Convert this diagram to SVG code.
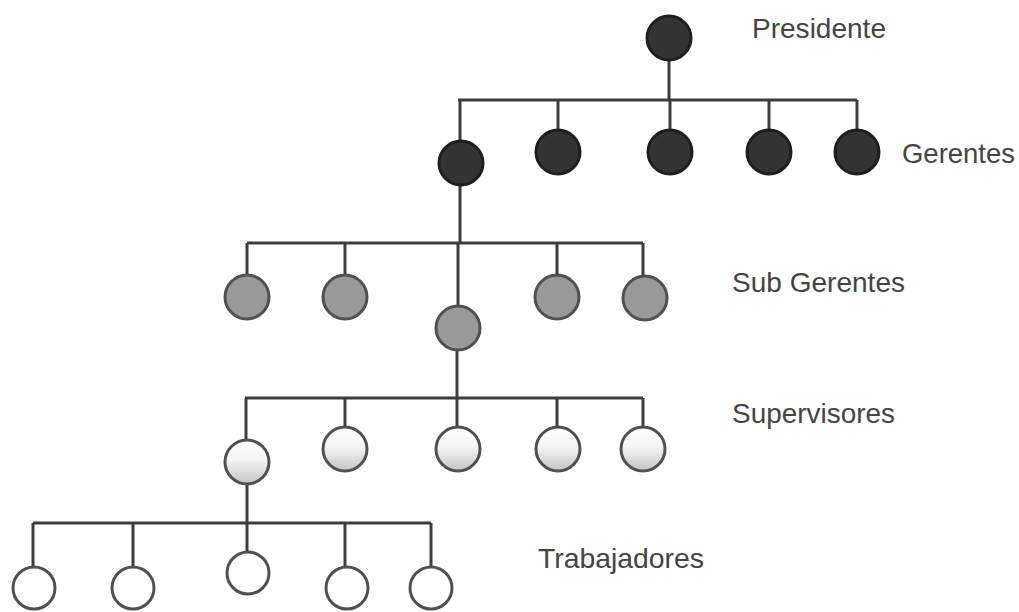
<svg xmlns="http://www.w3.org/2000/svg" width="1019" height="612" viewBox="0 0 1019 612">
  <style>
    .line { stroke: #3c3c3c; stroke-width: 3; fill: none; }
    .dark { fill: #333333; stroke: #1e1e1e; stroke-width: 3; }
    .mid { fill: #999999; stroke: #505050; stroke-width: 3; }
    .light { fill: url(#shade); stroke: #505050; stroke-width: 3; }
    .empty { fill: #ffffff; stroke: #505050; stroke-width: 3; }
    .label { font-family: "Liberation Sans", Arial, sans-serif; font-size: 28px; fill: #444444; }
  </style>
  <defs>
    <linearGradient id="shade" x1="0" y1="0" x2="0" y2="1">
      <stop offset="0" stop-color="#ffffff"/>
      <stop offset="0.45" stop-color="#f4f4f4"/>
      <stop offset="1" stop-color="#c4c4c4"/>
    </linearGradient>
  </defs>
  <rect width="1019" height="612" fill="#ffffff"/>

  <!-- connectors -->
  <g id="connectors" class="line">
    <!-- presidente to gerentes -->
    <path d="M669 60 V100 M458 100 H857 M460 100 V141 M558 100 V130 M670 100 V130 M769 100 V130 M857 100 V130"/>
    <!-- gerente to sub gerentes -->
    <path d="M460 185 V243 M247 243 H643 M247 243 V275 M345 243 V275 M458 243 V306 M557 243 V275 M643 243 V275"/>
    <!-- sub gerente to supervisores -->
    <path d="M457 350 V398 M245 398 H643 M246 398 V440 M345 398 V427 M457 398 V427 M557 398 V427 M643 398 V427"/>
    <!-- supervisor to trabajadores -->
    <path d="M247 484 V523 M33 523 H431 M33 523 V566 M133 523 V566 M247 523 V551 M345 523 V566 M431 523 V566"/>
  </g>

  <!-- nodes -->
  <g id="presidente"><circle class="dark" cx="669" cy="38" r="22"/></g>
  <g id="gerente-1"><circle class="dark" cx="461" cy="163" r="22"/></g>
  <g id="gerente-2"><circle class="dark" cx="558" cy="152" r="22"/></g>
  <g id="gerente-3"><circle class="dark" cx="670" cy="152" r="22"/></g>
  <g id="gerente-4"><circle class="dark" cx="769" cy="152" r="22"/></g>
  <g id="gerente-5"><circle class="dark" cx="857" cy="152" r="22"/></g>

  <g id="subgerente-1"><circle class="mid" cx="247" cy="297" r="22"/></g>
  <g id="subgerente-2"><circle class="mid" cx="345" cy="297" r="22"/></g>
  <g id="subgerente-3"><circle class="mid" cx="458" cy="328" r="22"/></g>
  <g id="subgerente-4"><circle class="mid" cx="557" cy="297" r="22"/></g>
  <g id="subgerente-5"><circle class="mid" cx="645" cy="298" r="22"/></g>

  <g id="supervisor-1"><circle class="light" cx="247" cy="462" r="22"/></g>
  <g id="supervisor-2"><circle class="light" cx="345" cy="449" r="22"/></g>
  <g id="supervisor-3"><circle class="light" cx="458" cy="449" r="22"/></g>
  <g id="supervisor-4"><circle class="light" cx="558" cy="449" r="22"/></g>
  <g id="supervisor-5"><circle class="light" cx="643" cy="449" r="22"/></g>

  <g id="trabajador-1"><circle class="empty" cx="34" cy="588" r="21"/></g>
  <g id="trabajador-2"><circle class="empty" cx="133" cy="588" r="21"/></g>
  <g id="trabajador-3"><circle class="empty" cx="248" cy="573" r="21"/></g>
  <g id="trabajador-4"><circle class="empty" cx="347" cy="588" r="21"/></g>
  <g id="trabajador-5"><circle class="empty" cx="431" cy="588" r="21"/></g>

  <!-- level labels -->
  <g id="labels">
    <text class="label" x="752" y="38" textLength="134" lengthAdjust="spacingAndGlyphs">Presidente</text>
    <text class="label" x="902" y="163" textLength="113" lengthAdjust="spacingAndGlyphs">Gerentes</text>
    <text class="label" x="732" y="292" textLength="173" lengthAdjust="spacingAndGlyphs">Sub Gerentes</text>
    <text class="label" x="732" y="423" textLength="163" lengthAdjust="spacingAndGlyphs">Supervisores</text>
    <text class="label" x="538" y="568" textLength="166" lengthAdjust="spacingAndGlyphs">Trabajadores</text>
  </g>
</svg>
